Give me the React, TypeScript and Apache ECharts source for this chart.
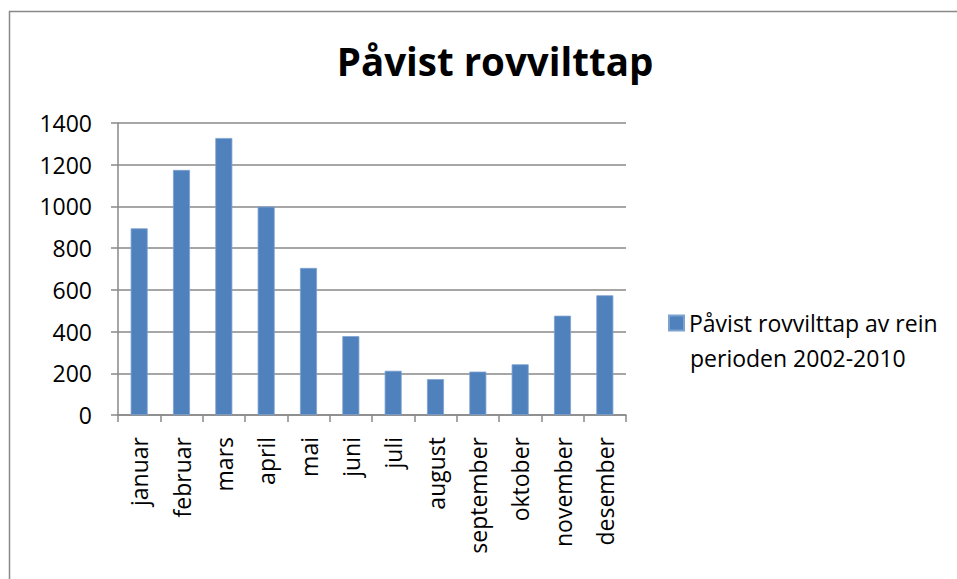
import React, { useEffect, useRef } from "react";
import * as echarts from "echarts";

const categories = [
  "januar", "februar", "mars", "april", "mai", "juni",
  "juli", "august", "september", "oktober", "november", "desember",
];
const values = [895, 1175, 1328, 999, 705, 378, 212, 172, 208, 243, 476, 574];
const seriesName = "Påvist rovvilttap av rein perioden 2002-2010";
const legendLine1 = "Påvist rovvilttap av rein";
const legendLine2 = "perioden 2002-2010";
const titleText = "Påvist rovvilttap";
const yMin = 0;
const yMax = 1400;
const yStep = 200;

const FONT = "'Open Sans', sans-serif";

export default function App() {
  const ref = useRef<HTMLDivElement>(null);
  useEffect(() => {
    if (!ref.current) return;
    const chart = echarts.init(ref.current, null, { renderer: "svg" });
    chart.setOption({
      animation: false,
      backgroundColor: "#ffffff",
      title: {
        text: titleText,
        left: 490,
        textAlign: "center",
        top: 36,
        textStyle: { fontFamily: FONT, fontSize: 38.5, fontWeight: "bold", color: "#000" },
      },
      graphic: [
        {
          type: "rect",
          shape: { x: 9.5, y: 11.5, width: 1000, height: 1000 },
          style: { fill: "none", stroke: "#898989", lineWidth: 1.5 },
          silent: true,
          z: -1,
        },
        {
          type: "text",
          left: 690,
          top: 345,
          style: { text: legendLine2, fontFamily: FONT, fontSize: 23, lineHeight: 26, fill: "#000" },
          silent: true,
        },
      ],
      legend: {
        left: 663,
        top: 305,
        orient: "vertical",
        itemWidth: 15,
        itemHeight: 15,
        icon: "rect",
        selectedMode: false,
        formatter: () => legendLine1,
        textStyle: { fontFamily: FONT, fontSize: 23, lineHeight: 26, color: "#000" },
        data: [seriesName],
      },
      grid: { left: 118, right: 331, top: 123, bottom: 164 },
      xAxis: {
        type: "category",
        data: categories,
        axisLine: { lineStyle: { color: "#898989", width: 1.5 } },
        axisTick: { show: true, length: 7, lineStyle: { color: "#898989", width: 1.5 } },
        axisLabel: {
          rotate: 90,
          margin: 22,
          fontFamily: FONT,
          fontSize: 23,
          color: "#000",
          interval: 0,
        },
      },
      yAxis: {
        type: "value",
        min: yMin,
        max: yMax,
        interval: yStep,
        axisLine: { show: true, lineStyle: { color: "#898989", width: 1.5 } },
        axisTick: { show: true, length: 7, lineStyle: { color: "#898989", width: 1.5 } },
        splitLine: { lineStyle: { color: "#898989", width: 1.5 } },
        axisLabel: {
          margin: 26,
          fontFamily: FONT,
          fontSize: 23,
          color: "#000",
          formatter: (v: number) => String(v),
        },
      },
      series: [
        {
          name: seriesName,
          type: "bar",
          data: values,
          barWidth: 17,
          itemStyle: { color: "#4F81BD", borderColor: "#7EA2D0", borderWidth: 0.8 },
        },
      ],
    });
    return () => chart.dispose();
  }, []);
  return <div ref={ref} style={{ width: 957, height: 579, position: "absolute", left: 0, top: 0 }} />;
}
